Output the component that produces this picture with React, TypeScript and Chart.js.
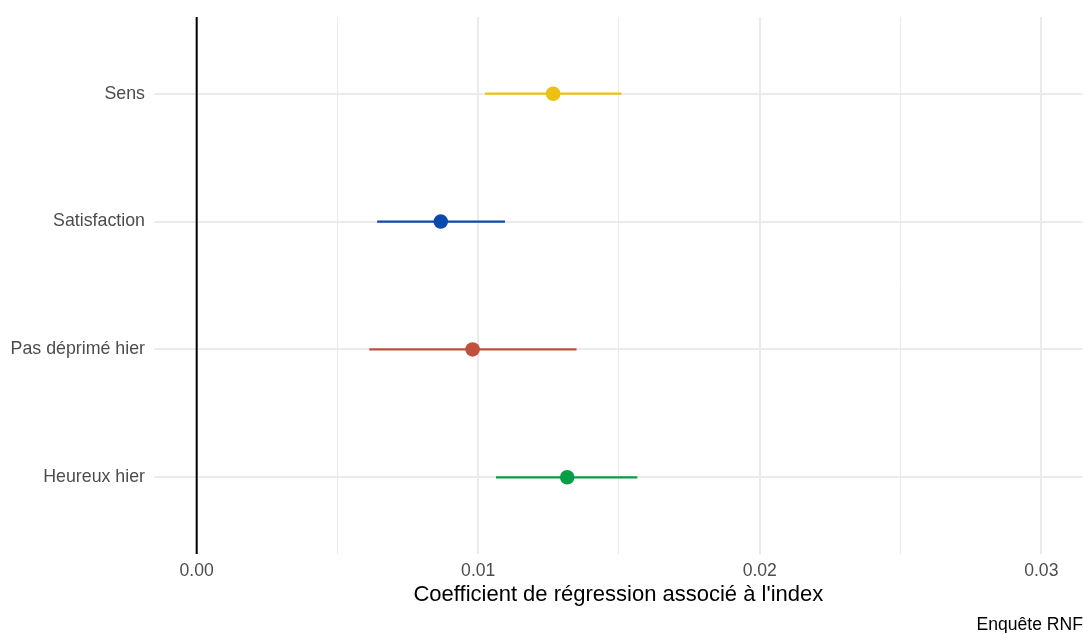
import React, { useEffect, useRef } from "react";
import { Chart, registerables } from "chart.js";

Chart.register(...registerables);

const categories = ["Sens", "Satisfaction", "Pas déprimé hier", "Heureux hier"];
const estimates = [0.01266, 0.00867, 0.0098, 0.01316];
const lowerCI = [0.01024, 0.00641, 0.00613, 0.01063];
const upperCI = [0.01509, 0.01095, 0.01349, 0.01565];
const colors = ["#EDC10F", "#0B49AD", "#C0513F", "#069E46"];
const xTickValues = [0, 0.01, 0.02, 0.03];
const xTitle = "Coefficient de régression associé à l'index";
const caption = "Enquête RNF";

const FONT = "'Liberation Sans', Arial, sans-serif";
const VIEW_W = 1083;
const CANVAS_W = 1090;
const H = 633;

export default function App() {
  const ref = useRef<HTMLCanvasElement | null>(null);

  useEffect(() => {
    document.body.style.margin = "0";
    const canvas = ref.current;
    if (!canvas) return;

    const datasets: any[] = [];
    datasets.push({
      type: "line",
      data: [
        { x: 0, y: -0.6 },
        { x: 0, y: categories.length - 0.4 },
      ],
      borderColor: "#000000",
      borderWidth: 2,
      pointRadius: 0,
      showLine: true,
    });
    categories.forEach((c, i) => {
      datasets.push({
        type: "line",
        data: [
          { x: lowerCI[i], y: i },
          { x: upperCI[i], y: i },
        ],
        borderColor: colors[i],
        borderWidth: 2.2,
        pointRadius: 0,
        showLine: true,
      });
    });
    categories.forEach((c, i) => {
      datasets.push({
        type: "scatter",
        data: [{ x: estimates[i], y: i }],
        backgroundColor: colors[i],
        borderColor: colors[i],
        borderWidth: 0,
        pointRadius: 7.3,
      });
    });

    const captionPlugin = {
      id: "caption",
      afterDraw(chart: any) {
        const ctx = chart.ctx;
        ctx.save();
        ctx.font = `17.6px ${FONT}`;
        ctx.fillStyle = "#000000";
        ctx.textAlign = "right";
        ctx.textBaseline = "middle";
        ctx.fillText(caption, VIEW_W, 625);
        ctx.restore();
      },
    };

    const chart = new Chart(canvas, {
      type: "scatter",
      data: { datasets },
      plugins: [captionPlugin],
      options: {
        animation: false,
        responsive: false,
        maintainAspectRatio: false,
        layout: { padding: { top: 17, right: 0, bottom: 25, left: 0 } },
        plugins: {
          legend: { display: false },
          tooltip: { enabled: false },
        },
        scales: {
          x: {
            type: "linear",
            min: -0.001516,
            max: 0.03147,
            afterBuildTicks: (scale: any) => {
              const t: any[] = [];
              for (let k = 0; k <= 6; k++) t.push({ value: k * 0.005 });
              scale.ticks = t;
            },
            afterFit: (scale: any) => {
              scale.height = 54;
              scale.paddingRight = 0;
              scale.paddingLeft = 0;
            },
            ticks: {
              autoSkip: false,
              maxRotation: 0,
              padding: 6.5,
              color: "#4D4D4D",
              font: { family: FONT, size: 17.6 },
              callback: (v: any) => {
                const n = Number(v);
                const hit = xTickValues.find((t) => Math.abs(t - n) < 1e-9);
                return hit !== undefined ? hit.toFixed(2) : "";
              },
            },
            grid: {
              drawTicks: false,
              tickLength: 0,
              color: "#EBEBEB",
              lineWidth: (ctx: any) => {
                const v = ctx.tick ? ctx.tick.value : 0;
                const major = xTickValues.some((t) => Math.abs(t - v) < 1e-9);
                return major ? 2 : 1;
              },
            },
            border: { display: false },
            title: {
              display: true,
              text: xTitle,
              color: "#000000",
              font: { family: FONT, size: 22 },
              padding: { top: 0, bottom: 0 },
            },
          },
          y: {
            type: "linear",
            min: -0.6,
            max: categories.length - 0.4,
            reverse: true,
            afterBuildTicks: (scale: any) => {
              scale.ticks = categories.map((_, i) => ({ value: i }));
            },
            afterFit: (scale: any) => {
              scale.width = 154;
              scale.paddingTop = 0;
              scale.paddingBottom = 0;
            },
            ticks: {
              autoSkip: false,
              padding: 9,
              color: "#4D4D4D",
              font: { family: FONT, size: 17.8 },
              callback: (v: any) => categories[Number(v)] ?? "",
            },
            grid: {
              drawTicks: false,
              tickLength: 0,
              color: "#EBEBEB",
              lineWidth: 2,
            },
            border: { display: false },
          },
        },
      },
    });

    return () => chart.destroy();
  }, []);

  return (
    <div style={{ position: "absolute", left: 0, top: 0, width: VIEW_W, height: H, overflow: "hidden" }}>
      <canvas ref={ref} width={CANVAS_W} height={H} style={{ width: CANVAS_W, height: H }} />
    </div>
  );
}
